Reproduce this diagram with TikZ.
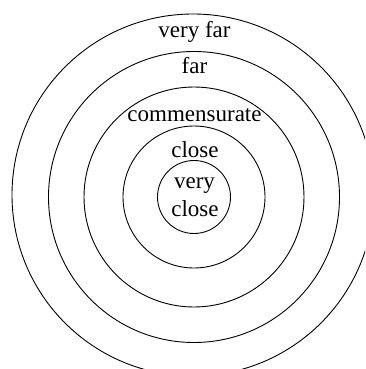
\documentclass[tikz,border=0pt]{standalone}
\usepackage{fontspec}
\setmainfont{Liberation Serif}
\usetikzlibrary{positioning}

\begin{document}
\begin{tikzpicture}[x=1pt, y=-1pt,
  ring/.style={draw, circle, line width=0.9pt, inner sep=0pt},
  zone/.style={anchor=base, inner sep=0pt, font=\fontsize{23}{27}\selectfont}]
  \useasboundingbox (0,0) rectangle (365,369);
  \clip (0,0) rectangle (365,369);
  \coordinate (mid) at (194,197);
  % rings, inside out
  \node[ring, minimum size=73pt] (rveryclose) at (mid) {};
  \node[ring, minimum size=142pt] (rclose) at (mid) {};
  \node[ring, minimum size=220pt] (rcomm) at (mid) {};
  \node[ring, minimum size=291pt] (rfar) at (mid) {};
  \node[ring, minimum size=362pt] (rveryfar) at (193,195) {};
  % labels
  \node[zone] (veryfar) at (194.5,37.5) {very far};
  \node[zone] (far) at (194.5,74) {far};
  \node[zone] (comm) at (194.5,121.5) {commensurate};
  \node[zone] (close) at (195,157) {close};
  \node[zone] (very) at (194.5,188) {very};
  \node[zone] (veryclose) at (195,216.5) {close};
\end{tikzpicture}
\end{document}
